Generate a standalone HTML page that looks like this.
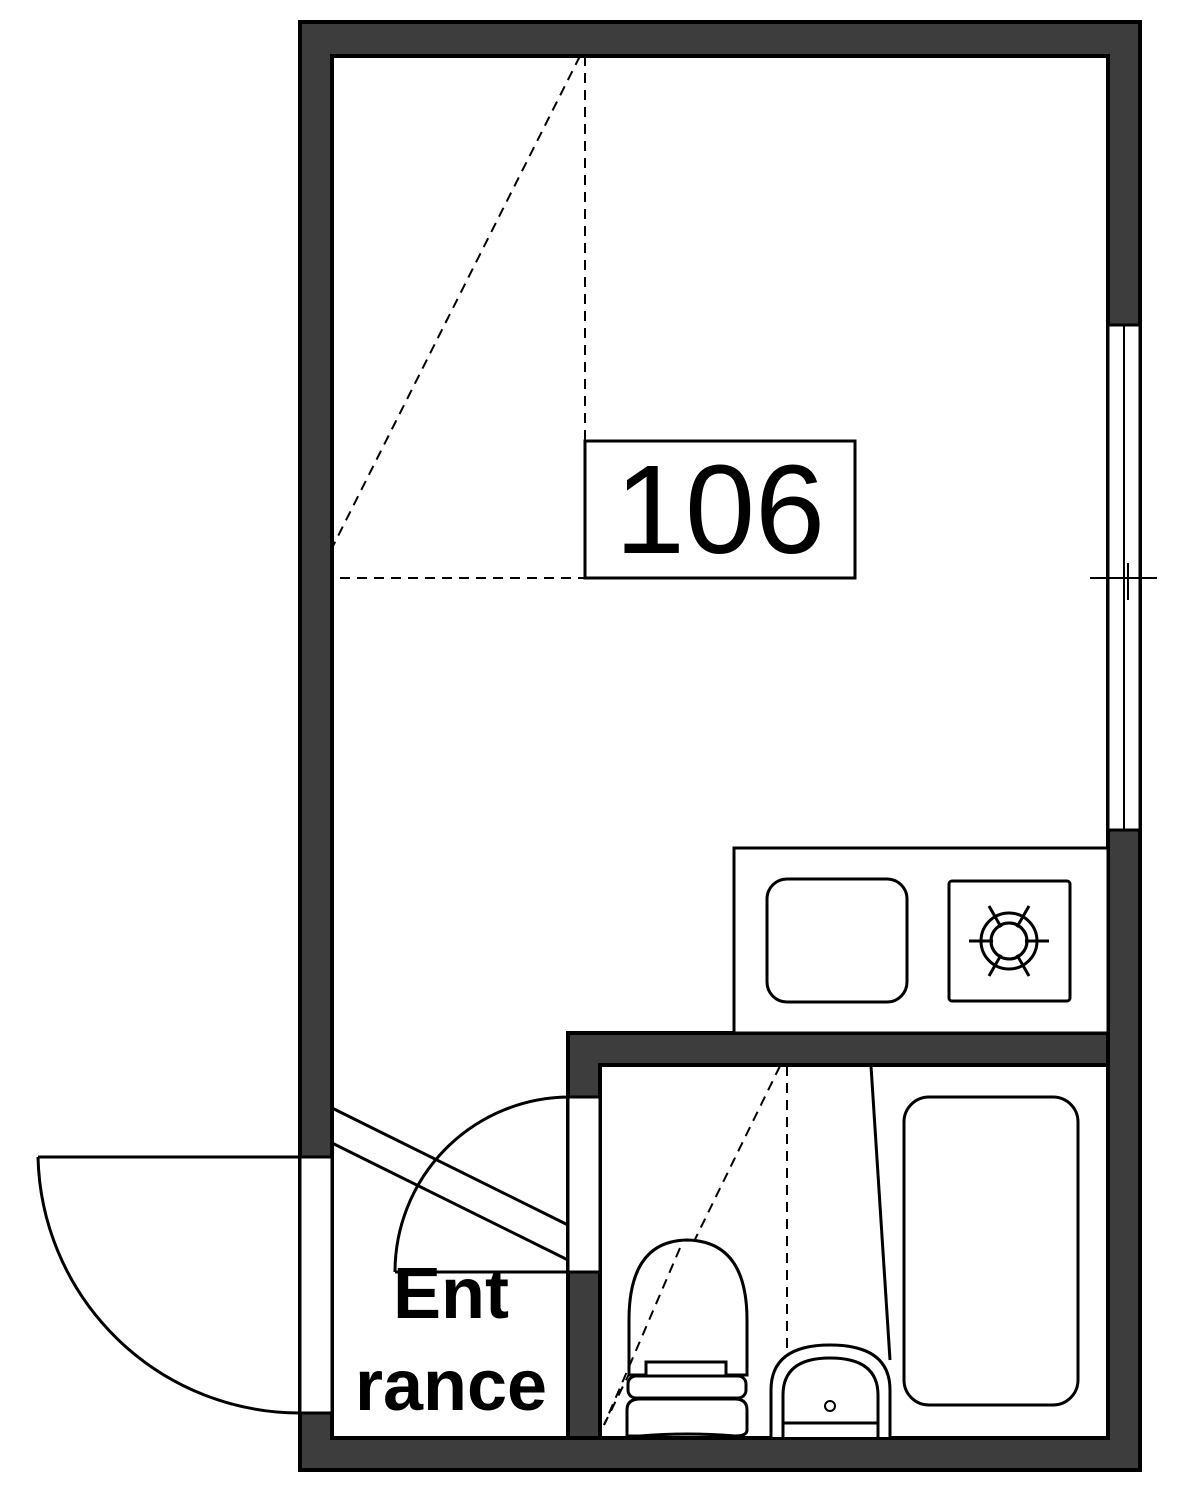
<!DOCTYPE html>
<html><head><meta charset="utf-8"><style>
html,body{margin:0;padding:0;background:#fff;width:1183px;height:1500px;overflow:hidden}
</style></head><body>
<svg width="1183" height="1500" viewBox="0 0 1183 1500" xmlns="http://www.w3.org/2000/svg">
<g stroke="#000" stroke-width="4" fill="none">
<!-- outer walls -->
<rect x="300" y="22" width="840" height="1448" fill="#3d3d3d"/>
<rect x="332" y="56" width="776" height="1382" fill="#fff"/>
<!-- bathroom walls -->
<rect x="568" y="1033" width="540" height="405" fill="#3d3d3d"/>
<rect x="600" y="1065" width="508" height="373" fill="#fff"/>
<!-- window right -->
<rect x="1108" y="325" width="32" height="505" fill="#fff" stroke-width="3"/>
<line x1="1124" y1="325" x2="1124" y2="830" stroke-width="2"/>
<line x1="1090" y1="578" x2="1157" y2="578" stroke-width="2"/>
<line x1="1128" y1="563" x2="1128" y2="600" stroke-width="2"/>
<!-- entrance opening -->
<rect x="300" y="1157" width="32" height="256" fill="#fff" stroke-width="3"/>
<line x1="38" y1="1157" x2="300" y2="1157" stroke-width="3"/>
<path d="M38 1157 A262 262 0 0 0 300 1413" stroke-width="3"/>
<!-- bath door opening -->
<rect x="568" y="1097" width="32" height="175" fill="#fff" stroke-width="3"/>
<line x1="395" y1="1272" x2="568" y2="1272" stroke-width="3"/>
<path d="M568 1097 A175 175 0 0 0 395 1272" stroke-width="3"/>
<line x1="332" y1="1108" x2="568" y2="1225" stroke-width="3"/>
<line x1="332" y1="1143" x2="568" y2="1260" stroke-width="3"/>
<!-- kitchen -->
<rect x="734" y="848" width="374" height="185" fill="#fff" stroke-width="3"/>
<rect x="767" y="879" width="140" height="123" rx="20" stroke-width="3"/>
<rect x="949" y="881" width="121" height="120" rx="3" stroke-width="3"/>
<circle cx="1009" cy="941" r="28" stroke-width="3"/>
<circle cx="1009" cy="941" r="18" stroke-width="3"/>
<line x1="969" y1="941" x2="1049" y2="941" stroke-width="3"/>
<line x1="989" y1="906" x2="1029" y2="976" stroke-width="3"/>
<line x1="1029" y1="906" x2="989" y2="976" stroke-width="3"/>
<circle cx="1009" cy="941" r="16" fill="#fff" stroke="none"/>
<circle cx="1009" cy="941" r="18" stroke-width="3"/>
<!-- main dashed -->
<g stroke-width="2" stroke-dasharray="10,7">
<line x1="585" y1="56" x2="585" y2="441"/>
<line x1="580" y1="56" x2="332" y2="548"/>
<line x1="340" y1="578" x2="585" y2="578"/>
<line x1="780" y1="1066" x2="604" y2="1425"/>
<line x1="787" y1="1066" x2="787" y2="1375"/>
</g>
<rect x="585" y="441" width="270" height="137" fill="#fff" stroke-width="3"/>
<!-- bath -->
<line x1="871" y1="1066" x2="890" y2="1360" stroke-width="3"/>
<rect x="904" y="1097" width="174" height="308" rx="25" stroke-width="3"/>
<!-- toilet -->
<path d="M629 1375 L629 1320 Q629 1241 687 1240 Q747 1241 747 1320 L747 1375 Z" fill="#fff" stroke-width="3"/>
<rect x="601" y="1400" width="0" height="0"/>
<rect x="646" y="1362" width="80" height="14" stroke-width="3" fill="#fff"/>
<rect x="628" y="1376" width="118" height="22" rx="8" fill="#fff" stroke-width="3"/>
<path d="M627 1436 L627 1410 Q627 1399 640 1399 L735 1399 Q747 1399 747 1410 L747 1430 Q747 1436 735 1436 Q687 1432 640 1436 Z" fill="#fff" stroke-width="3"/>
<line x1="680" y1="1248" x2="604" y2="1425" stroke-width="2" stroke-dasharray="10,7"/>
<!-- washbasin -->
<path d="M771 1437 L771 1390 Q771 1345 830 1345 Q890 1345 890 1390 L890 1437" fill="#fff" stroke-width="3"/>
<path d="M783 1437 L783 1395 Q783 1358 830 1358 Q878 1358 878 1395 L878 1437" stroke-width="3"/>
<line x1="783" y1="1423" x2="878" y2="1423" stroke-width="3"/>
<circle cx="830" cy="1406" r="5" stroke-width="2"/>
</g>
<text x="720" y="553" font-family="'Liberation Sans',sans-serif" font-size="126" text-anchor="middle" fill="#000">106</text>
<text x="451" y="1318" font-family="'Liberation Sans',sans-serif" font-weight="bold" font-size="72" text-anchor="middle" fill="#000">Ent</text>
<text x="451" y="1410" font-family="'Liberation Sans',sans-serif" font-weight="bold" font-size="72" text-anchor="middle" fill="#000" textLength="192" lengthAdjust="spacingAndGlyphs">rance</text>
</svg>
</body></html>
